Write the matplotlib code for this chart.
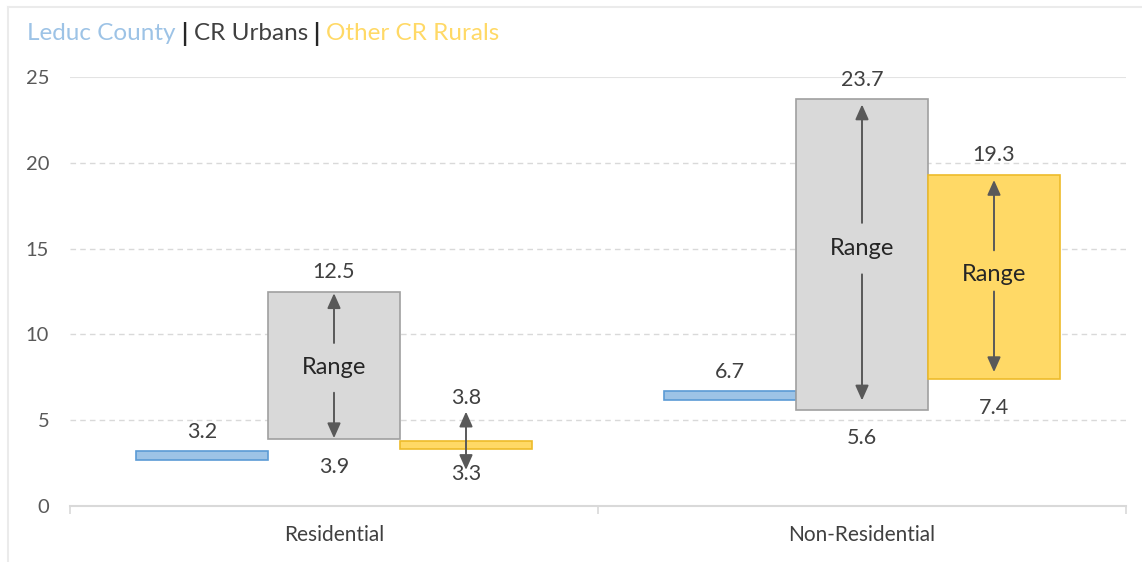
import matplotlib
matplotlib.use("Agg")
import matplotlib.pyplot as plt
from matplotlib.lines import Line2D

plt.rcParams['font.family'] = ['Lato', 'DejaVu Sans']

# ---- data ----
categories = ["Residential", "Non-Residential"]
leduc = [3.2, 6.7]
urban_low = [3.9, 5.6]
urban_high = [12.5, 23.7]
rural_low = [3.3, 7.4]
rural_high = [3.8, 19.3]
y_ticks = [0, 5, 10, 15, 20, 25]

# ---- style ----
W, H = 1142, 562
DPI = 100
BAR_W = 0.25
LEDUC_THICK = 0.5
TXT = "#404040"
ARROW = "#595959"
BLUE_F, BLUE_E = "#9DC3E6", "#5B9BD5"
GRAY_F, GRAY_E = "#D9D9D9", "#A0A0A0"
YEL_F, YEL_E = "#FFD966", "#EDBB2A"
NUM_FS = 15.5
RANGE_FS = 17

fig = plt.figure(figsize=(W / DPI, H / DPI), dpi=DPI)
ax = fig.add_axes([70 / W, 1 - 506 / H, (1126 - 70) / W, (506 - 77) / H])

x = list(range(len(categories)))


def value_label(xv, yv, dy, **kw):
    ax.annotate(f"{yv:.1f}", (xv, yv), xytext=(0, dy), textcoords="offset points",
                ha="center", va="center", fontsize=NUM_FS, color=TXT, **kw)


# Leduc County: thin marker bar ending at its value
for i, v in enumerate(leduc):
    ax.bar(i - BAR_W, LEDUC_THICK, bottom=v - LEDUC_THICK, width=BAR_W,
           color=BLUE_F, edgecolor=BLUE_E, linewidth=1.2, zorder=3)
    value_label(i - BAR_W, v, 14)

# CR Urbans: floating range bars
for i, (lo, hi) in enumerate(zip(urban_low, urban_high)):
    ax.bar(i, hi - lo, bottom=lo, width=BAR_W, color=GRAY_F, edgecolor=GRAY_E,
           linewidth=1.2, zorder=3)
    value_label(i, hi, 14)
    value_label(i, lo, -20)

# Other CR Rurals: floating range bars
for i, (lo, hi) in enumerate(zip(rural_low, rural_high)):
    ax.bar(i + BAR_W, hi - lo, bottom=lo, width=BAR_W, color=YEL_F, edgecolor=YEL_E,
           linewidth=1.2, zorder=3)


# Range labels and arrows inside the tall bars
def range_arrows(xc, mid, up_start, up_tip, dn_start, dn_tip):
    ax.text(xc, mid, "Range", ha="center", va="center", fontsize=RANGE_FS,
            color="#262626", zorder=5)
    style = dict(arrowstyle="-|>,head_length=0.9,head_width=0.4", color=ARROW, lw=1.4,
                 shrinkA=0, shrinkB=0)
    ax.annotate("", xy=(xc, up_tip), xytext=(xc, up_start), arrowprops=style, zorder=5)
    ax.annotate("", xy=(xc, dn_tip), xytext=(xc, dn_start), arrowprops=style, zorder=5)


range_arrows(0, 8.1, 9.5, urban_high[0] - 0.1, 6.6, urban_low[0] + 0.05)
range_arrows(1, 15.0, 16.5, urban_high[1] - 0.3, 13.5, urban_low[1] + 0.55)
range_arrows(1 + BAR_W, 13.5, 14.9, rural_high[1] - 0.3, 12.5, rural_low[1] + 0.4)

# Narrow rural residential range: double arrow across the bar
ax.annotate("", xy=(BAR_W, 5.5), xytext=(BAR_W, 2.1),
            arrowprops=dict(arrowstyle="<|-|>,head_length=0.9,head_width=0.4", color=ARROW,
                            lw=1.4, shrinkA=0, shrinkB=0), zorder=5)
value_label(BAR_W, rural_high[0], 31, zorder=6)
value_label(BAR_W, rural_low[0], -18, zorder=6)

value_label(1 + BAR_W, rural_high[1], 14)
value_label(1 + BAR_W, rural_low[1], -21)

# ---- axes ----
ax.set_xlim(-0.5, len(categories) - 0.5)
ax.set_ylim(0, 25)
ax.set_yticks(y_ticks)
ax.set_yticklabels([str(t) for t in y_ticks], fontsize=14.5, color="#595959")
ax.tick_params(axis="y", length=0, pad=15)
ax.set_xticks(x)
ax.set_xticklabels(categories, fontsize=15, color=TXT)
ax.tick_params(axis="x", length=0, pad=14)
ax.set_xticks([-0.5, 0.5, 1.5], minor=True)
ax.tick_params(axis="x", which="minor", length=6, color="#D9D9D9", width=1.2)

for s in ["top", "right", "left"]:
    ax.spines[s].set_visible(False)
ax.spines["bottom"].set_color("#D9D9D9")
ax.spines["bottom"].set_linewidth(1.5)

for t in y_ticks[1:-1]:
    ax.axhline(t, color="#D9D9D9", lw=1, ls=(0, (4, 3)), zorder=1)
ax.axhline(25, color="#E3E3E3", lw=1.5, zorder=1)

# ---- header legend ----
def px(xp, yp):
    return xp / W, 1 - yp / H


parts = [("Leduc County", BLUE_F), (" | ", "#262626"), ("CR Urbans", "#404040"),
         (" | ", "#262626"), ("Other CR Rurals", YEL_F)]
fig.canvas.draw()
renderer = fig.canvas.get_renderer()
xcur = 27
for s, c in parts:
    t = fig.text(*px(xcur, 34), s, fontsize=17.5, color=c, ha="left", va="center",
                 fontweight="bold" if s.strip() == "|" else "normal")
    bb = t.get_window_extent(renderer)
    xcur += bb.width

# outer frame
fig.add_artist(Line2D([8 / W, 8 / W], [0, 1 - 7 / H], color="#EBEBEB", lw=1.5))
fig.add_artist(Line2D([8 / W, 1], [1 - 7 / H, 1 - 7 / H], color="#EBEBEB", lw=1.5))

fig.savefig("out.png", dpi=DPI)
